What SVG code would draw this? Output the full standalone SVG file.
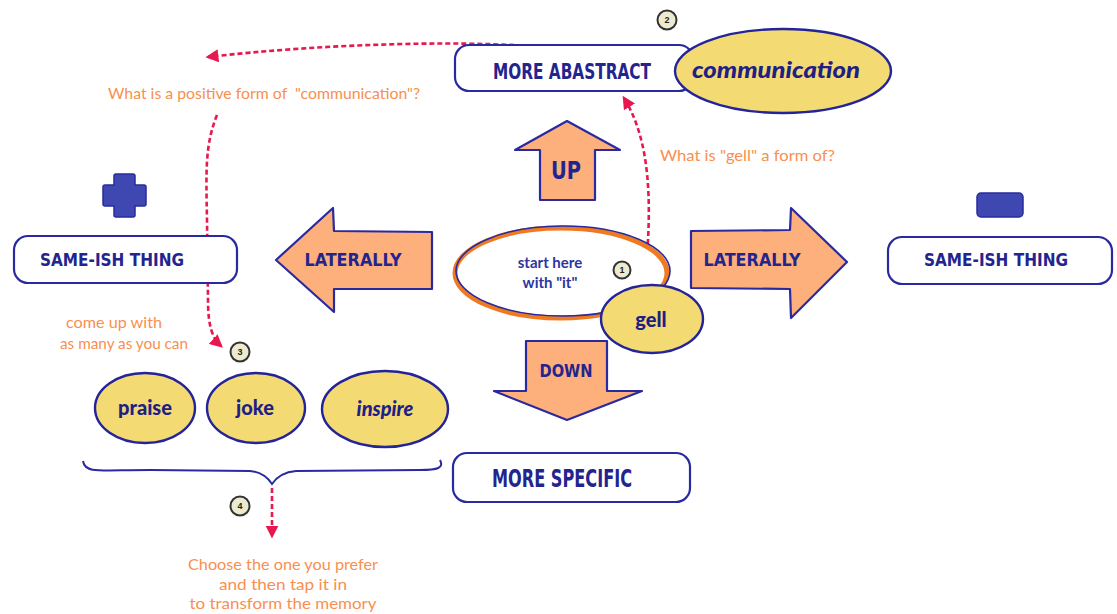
<svg xmlns="http://www.w3.org/2000/svg" width="1117" height="614" viewBox="0 0 1117 614">
<style>
.box{fill:#fff;stroke:#2a2aa0;stroke-width:2.2}
.yel{fill:#f4da72;stroke:#23239a;stroke-width:2.4}
.arr{fill:#fdb07c;stroke:#2a2aa0;stroke-width:2.2;stroke-linejoin:round}
.cap{font-family:"DejaVu Sans Condensed","DejaVu Sans","Liberation Sans",sans-serif;font-weight:bold;fill:#24248e;text-anchor:middle}
.word{font-family:"Lato","Open Sans",sans-serif;font-weight:900;fill:#1f1f86;text-anchor:middle}
.note{font-family:"Lato","Open Sans",sans-serif;fill:#f98f4f;font-size:15px}
.blue{font-family:"Lato","Open Sans",sans-serif;font-weight:bold;fill:#2e35a0;text-anchor:middle;font-size:15px}
.badge{fill:#eceacf;stroke:#333;stroke-width:2}
.bnum{font-family:"Liberation Sans",sans-serif;font-size:9px;fill:#222;text-anchor:middle;font-weight:bold}
.dash{fill:none;stroke:#e8174f;stroke-width:2.6;stroke-dasharray:5 3}
</style>
<defs>
<marker id="ah" viewBox="0 0 10 10" refX="8" refY="5" markerWidth="5" markerHeight="5" orient="auto">
<path d="M0,0 L10,5 L0,10 z" fill="#e8174f"/>
</marker>
</defs>

<g id="connectors">
<path class="dash" d="M570,50 C480,38 320,44 208,57" marker-end="url(#ah)"/>
<path class="dash" d="M217,115 C205,145 206,170 207,220 L208,300 C208,325 212,338 221,346" marker-end="url(#ah)"/>
<path class="dash" d="M646,268 C652,200 650,140 624,98" marker-end="url(#ah)"/>
<path class="dash" d="M272,488 L272,536" marker-end="url(#ah)"/>
<path d="M83,461 C85,474 100,470 150,470 L250,471 C262,472 268,478 272,484 C276,478 284,472 296,471 L420,470 C438,470 444,468 440,460" fill="none" stroke="#2a2aa0" stroke-width="2"/>
</g>

<g id="more-abstract">
<rect class="box" x="455" y="45" width="238" height="46" rx="14"/>
<text class="cap" x="572" y="79" font-size="22" textLength="158" lengthAdjust="spacingAndGlyphs">MORE ABASTRACT</text>
</g>
<g id="communication">
<ellipse class="yel" cx="783" cy="71" rx="108" ry="42"/>
<text class="word" x="776" y="78" font-size="22" font-style="italic" textLength="168" lengthAdjust="spacingAndGlyphs">communication</text>
</g>
<g id="badge2"><circle class="badge" cx="667" cy="20" r="9.5"/><text class="bnum" x="667" y="23">2</text></g>

<g id="q1"><text class="note" x="108" y="99" textLength="312" lengthAdjust="spacingAndGlyphs" xml:space="preserve">What is a positive form of  "communication"?</text></g>

<g id="plus"><path d="M116,174 H133 Q135,174 135,176 V185 H144 Q146,185 146,187 V204 Q146,206 144,206 H135 V215 Q135,217 133,217 H116 Q114,217 114,215 V206 H105 Q103,206 103,204 V187 Q103,185 105,185 H114 V176 Q114,174 116,174 Z" fill="#3f48b0" stroke="#2a2aa0" stroke-width="1.5"/></g>
<g id="minus"><rect x="977" y="193" width="46" height="24" rx="4" fill="#3f48b0" stroke="#2a2aa0" stroke-width="1.5"/></g>

<g id="same-left">
<rect class="box" x="14" y="236" width="223" height="47" rx="14"/>
<text class="cap" x="112" y="266" font-size="18" textLength="144" lengthAdjust="spacingAndGlyphs">SAME-ISH THING</text>
</g>
<g id="same-right">
<rect class="box" x="888" y="237" width="224" height="47" rx="14"/>
<text class="cap" x="996" y="266" font-size="18" textLength="144" lengthAdjust="spacingAndGlyphs">SAME-ISH THING</text>
</g>

<g id="lat-left">
<path class="arr" d="M276,260 L333,208 L334,231 L432,232 L432,289 L334,289 L334,312 Z"/>
<text class="cap" x="353" y="266" font-size="18" textLength="97" lengthAdjust="spacingAndGlyphs">LATERALLY</text>
</g>
<g id="lat-right">
<path class="arr" d="M691,231 L790,230 L791,208 L847,262 L791,318 L790,289 L691,288 Z"/>
<text class="cap" x="752" y="266" font-size="18" textLength="97" lengthAdjust="spacingAndGlyphs">LATERALLY</text>
</g>

<g id="up">
<path class="arr" d="M567,121 L620,150 L595,150 L595,200 L540,200 L540,150 L515,150 Z"/>
<text class="cap" x="566" y="179" font-size="24" textLength="30" lengthAdjust="spacingAndGlyphs">UP</text>
</g>
<g id="down">
<path class="arr" d="M526,341 L607,341 L607,391 L642,391 L567,420 L494,391 L526,391 Z"/>
<text class="cap" x="566" y="377" font-size="17" textLength="53" lengthAdjust="spacingAndGlyphs">DOWN</text>
</g>

<g id="q2"><text class="note" x="660" y="161" textLength="175" lengthAdjust="spacingAndGlyphs">What is "gell" a form of?</text></g>

<g id="start">
<ellipse cx="561" cy="273" rx="106" ry="45" fill="#fff" stroke="#f07a20" stroke-width="5"/>
<ellipse cx="563" cy="271" rx="107" ry="45" fill="none" stroke="#2a2aa0" stroke-width="1.6"/>
<text class="blue" x="550" y="268">start here</text>
<text class="blue" x="550" y="288">with "it"</text>
</g>
<g id="badge1"><circle class="badge" cx="622" cy="270" r="8.5"/><text class="bnum" x="622" y="273">1</text></g>
<g id="gell">
<ellipse class="yel" cx="652" cy="319" rx="51" ry="34"/>
<text class="word" x="651" y="327" font-size="20">gell</text>
</g>

<g id="q3">
<text class="note" x="114" y="328" text-anchor="middle" textLength="96" lengthAdjust="spacingAndGlyphs">come up with</text>
<text class="note" x="124" y="349" text-anchor="middle" textLength="128" lengthAdjust="spacingAndGlyphs">as many as you can</text>
</g>
<g id="badge3"><circle class="badge" cx="240" cy="352" r="9.5"/><text class="bnum" x="240" y="355">3</text></g>

<g id="praise"><ellipse class="yel" cx="145" cy="408" rx="50" ry="35"/><text class="word" x="145" y="415" font-size="20">praise</text></g>
<g id="joke"><ellipse class="yel" cx="256" cy="408" rx="49" ry="35"/><text class="word" x="255" y="415" font-size="20">joke</text></g>
<g id="inspire"><ellipse class="yel" cx="385" cy="409" rx="63" ry="38"/><text class="word" x="385" y="416" font-size="20" font-style="italic">inspire</text></g>

<g id="more-specific">
<rect class="box" x="453" y="453" width="237" height="49" rx="14"/>
<text class="cap" x="562" y="487" font-size="24" textLength="140" lengthAdjust="spacingAndGlyphs">MORE SPECIFIC</text>
</g>

<g id="badge4"><circle class="badge" cx="240" cy="506" r="9.5"/><text class="bnum" x="240" y="509">4</text></g>
<g id="q4">
<text class="note" x="283" y="570" text-anchor="middle" textLength="190" lengthAdjust="spacingAndGlyphs">Choose the one you prefer</text>
<text class="note" x="283" y="590" text-anchor="middle" textLength="128" lengthAdjust="spacingAndGlyphs">and then tap it in</text>
<text class="note" x="283" y="609" text-anchor="middle" textLength="187" lengthAdjust="spacingAndGlyphs">to transform the memory</text>
</g>
</svg>
